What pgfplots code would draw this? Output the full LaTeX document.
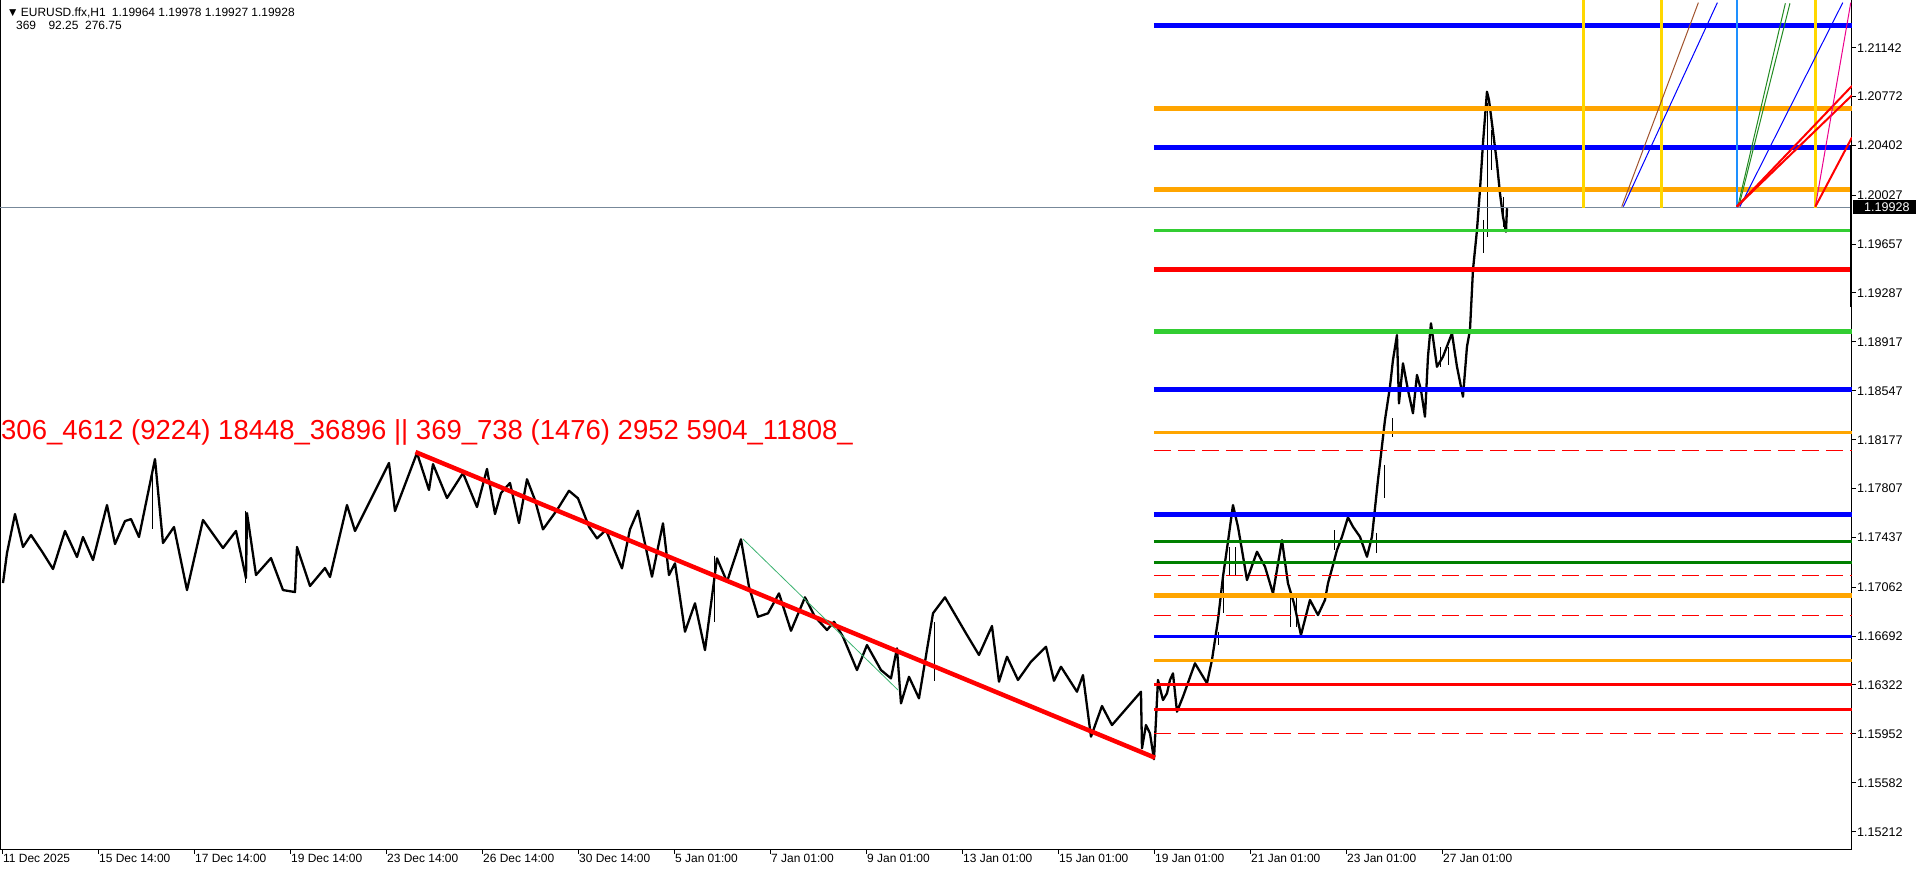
\documentclass[border=0pt]{standalone}
\usepackage{fontspec}
\setmainfont{Liberation Sans}
\usepackage{pgfplots}
\pgfplotsset{compat=1.18}
\definecolor{mtblue}{RGB}{0,0,255}
\definecolor{mtorange}{RGB}{255,165,0}
\definecolor{mtlime}{RGB}{50,205,50}
\definecolor{mtgreen}{RGB}{0,128,0}
\definecolor{mtred}{RGB}{255,0,0}
\definecolor{mtgold}{RGB}{255,215,0}
\definecolor{mtdodger}{RGB}{30,144,255}
\definecolor{mtsienna}{RGB}{160,82,45}
\definecolor{mtforest}{RGB}{34,139,34}
\definecolor{mtteal}{RGB}{60,179,113}
\definecolor{mtslate}{RGB}{119,136,153}
\begin{document}
\begin{tikzpicture}
\path[use as bounding box] (0,-24bp) rectangle (1916bp,850bp);
\begin{axis}[
  at={(0,0)}, anchor=south west,
  scale only axis, width=1852bp, height=850bp,
  xmin=-1.5, xmax=924.5, ymin=1.15074, ymax=1.21503,
  axis line style={line width=1bp, black},
  xtick={0,48,96,144,192,240,288,336,384,432,480,528,576,624,672,720},
  xticklabels={11 Dec 2025,15 Dec 14:00,17 Dec 14:00,19 Dec 14:00,23 Dec 14:00,26 Dec 14:00,30 Dec 14:00,5 Jan 01:00,7 Jan 01:00,9 Jan 01:00,13 Jan 01:00,15 Jan 01:00,19 Jan 01:00,21 Jan 01:00,23 Jan 01:00,27 Jan 01:00},
  ytick={1.21142,1.20772,1.20402,1.20027,1.19657,1.19287,1.18917,1.18547,1.18177,1.17807,1.17437,1.17062,1.16692,1.16322,1.15952,1.15582,1.15212},
  yticklabels={1.21142,1.20772,1.20402,1.20027,1.19657,1.19287,1.18917,1.18547,1.18177,1.17807,1.17437,1.17062,1.16692,1.16322,1.15952,1.15582,1.15212},
  xtick pos=bottom, ytick pos=right, yticklabel pos=right,
  tick align=outside, major tick length=4bp,
  tick style={black, line width=1bp},
  tick label style={inner sep=0pt},
  xticklabel style={anchor=north west, font=\fontsize{12}{14}\selectfont},
  yticklabel style={anchor=west, font=\fontsize{12.6}{14}\selectfont, xshift=1bp},
  /pgf/number format/assume math mode=true,
  clip=true,
]
% price (close path)
\addplot[black, line width=2.3bp, line join=round] coordinates {
(0,1.17093) (2,1.17320) (6,1.17615) (10,1.17366) (14,1.17456) (20,1.17320) (25,1.17199) (31,1.17487) (37,1.17290) (40,1.17441) (45,1.17267) (52,1.17683) (56,1.17388) (61,1.17562) (64,1.17577) (68,1.17441) (76,1.18031) (80,1.17396) (85.5,1.17517) (92,1.17040) (100,1.17570) (110,1.17358) (116.5,1.17487) (121.5,1.17131) (122,1.17623) (126.5,1.17154) (134,1.17282) (140,1.17040) (146,1.17025) (147,1.17366) (153.5,1.17071) (161,1.17207) (163.5,1.17139) (172,1.17683) (176,1.17487) (193,1.18001) (196,1.17638) (207,1.18077) (213,1.17797) (215,1.17993) (222,1.17736) (230,1.17925) (237,1.17668) (242,1.17956) (246,1.17615) (249,1.17774) (253.5,1.17850) (258,1.17547) (262,1.17878) (266,1.17721) (270,1.17499) (277,1.17645) (283,1.17791) (287.5,1.17734) (293,1.17519) (297,1.17431) (301.5,1.17494) (309.5,1.17204) (313.5,1.17499) (317.5,1.17640) (324.5,1.17141) (330,1.17545) (333,1.17154) (336,1.17242) (341,1.16725) (346,1.16940) (351,1.16586) (357,1.17280) (362,1.17103) (369,1.17424) (373,1.17065) (377.5,1.16838) (382.5,1.16864) (388,1.17015) (394,1.16732) (401,1.16985) (406,1.16838) (412,1.16738) (415.5,1.16800) (420,1.16687) (427,1.16435) (432,1.16624) (439,1.16435) (444,1.16372) (447,1.16599) (449,1.16183) (453,1.16384) (458,1.16221) (465,1.16864) (471,1.16985) (481.5,1.16713) (488,1.16549) (494.5,1.16768) (498,1.16347) (502,1.16536) (507.5,1.16360) (514,1.16498) (521.5,1.16611) (525.5,1.16354) (529,1.16460) (537,1.16271) (540,1.16397) (544,1.15931) (549.5,1.16163) (554.5,1.16019) (569,1.16271) (569.5,1.15843) (571.5,1.16019) (573.5,1.15956) (575.5,1.15760) (577.5,1.16360) (580,1.16208) (582,1.16259) (583.5,1.16360) (585,1.16410) (587,1.16120) (590,1.16233) (596,1.16486) (602,1.16335) (604.5,1.16511) (607.5,1.16813) (610,1.17141) (612.5,1.17406) (615,1.17683) (617.5,1.17519) (619.5,1.17343) (622,1.17116) (627,1.17330) (631,1.17217) (635,1.17015) (639.5,1.17418) (642.5,1.17091) (645.5,1.16940) (649,1.16700) (653.5,1.16965) (657.5,1.16851) (661,1.16965) (662.5,1.17091) (665,1.17229) (667,1.17343) (669.5,1.17443) (672.5,1.17590) (675,1.17519) (678.5,1.17443) (682,1.17292) (684.5,1.17443) (687.5,1.17872) (688.5,1.17999) (691,1.18326) (693.5,1.18578) (695,1.18780) (697,1.18969) (698,1.18452) (700,1.18755) (702.5,1.18553) (705,1.18377) (707,1.18667) (709,1.18553) (711,1.18351) (712.5,1.18805) (714,1.19058) (717,1.18729) (720,1.18805) (724.5,1.18982) (727,1.18729) (730,1.18502) (732,1.18881) (733.5,1.19007) (735,1.19461) (737,1.19763) (738.5,1.20066) (740,1.20419) (742,1.20809) (743,1.20747) (744.5,1.20570) (747,1.20268) (748.5,1.20041) (750,1.19864) (751.5,1.19750) (752,1.19928)
};
% high-low spikes
\addplot[black, line width=1bp] coordinates {(691,1.17986) (691,1.17736)};
\addplot[black, line width=1bp] coordinates {(695,1.18341) (695,1.18197)};
\addplot[black, line width=1bp] coordinates {(742.3,1.20724) (742.3,1.19710)};
\addplot[black, line width=1bp] coordinates {(740.5,1.19839) (740.5,1.19589)};
\addplot[black, line width=1bp] coordinates {(744.5,1.20520) (744.5,1.20217)};
\addplot[black, line width=1bp] coordinates {(750.5,1.20013) (750.5,1.19786)};
\addplot[black, line width=1bp] coordinates {(719,1.18878) (719,1.18727)};
\addplot[black, line width=1bp] coordinates {(723,1.18878) (723,1.18740)};
\addplot[black, line width=1bp] coordinates {(608,1.16723) (608,1.16624)};
\addplot[black, line width=1bp] coordinates {(610.5,1.17139) (610.5,1.16866)};
\addplot[black, line width=1bp] coordinates {(613.5,1.17365) (613.5,1.17154)};
\addplot[black, line width=1bp] coordinates {(616.5,1.17365) (616.5,1.17154)};
\addplot[black, line width=1bp] coordinates {(644,1.16987) (644,1.16760)};
\addplot[black, line width=1bp] coordinates {(647,1.16987) (647,1.16760)};
\addplot[black, line width=1bp] coordinates {(666,1.17494) (666,1.17343)};
\addplot[black, line width=1bp] coordinates {(687,1.17472) (687,1.17320)};
\addplot[black, line width=1bp] coordinates {(121.5,1.17640) (121.5,1.17090)};
\addplot[black, line width=1bp] coordinates {(75,1.17950) (75,1.17500)};
\addplot[black, line width=1bp] coordinates {(356,1.17300) (356,1.16800)};
\addplot[black, line width=1bp] coordinates {(466,1.16800) (466,1.16350)};
% bid line
\addplot[mtslate, line width=1bp] coordinates {(-1.5,1.19932) (924.5,1.19932)};
% horizontal levels
\addplot[mtblue, line width=5bp] coordinates {(575.5,1.21309) (924.5,1.21309)};
\addplot[mtorange, line width=5bp] coordinates {(575.5,1.20679) (924.5,1.20679)};
\addplot[mtblue, line width=5bp] coordinates {(575.5,1.20386) (924.5,1.20386)};
\addplot[mtorange, line width=5bp] coordinates {(575.5,1.20071) (924.5,1.20071)};
\addplot[mtlime, line width=3bp] coordinates {(575.5,1.19756) (924.5,1.19756)};
\addplot[mtred, line width=5bp] coordinates {(575.5,1.19466) (924.5,1.19466)};
\addplot[mtlime, line width=5bp] coordinates {(575.5,1.18999) (924.5,1.18999)};
\addplot[mtblue, line width=5bp] coordinates {(575.5,1.18558) (924.5,1.18558)};
\addplot[mtorange, line width=3bp] coordinates {(575.5,1.18235) (924.5,1.18235)};
\addplot[mtred, line width=1bp, dash pattern=on 17bp off 7bp] coordinates {(575.5,1.18099) (924.5,1.18099)};
\addplot[mtblue, line width=5bp] coordinates {(575.5,1.17613) (924.5,1.17613)};
\addplot[mtgreen, line width=3bp] coordinates {(575.5,1.17411) (924.5,1.17411)};
\addplot[mtgreen, line width=3bp] coordinates {(575.5,1.17250) (924.5,1.17250)};
\addplot[mtred, line width=1bp, dash pattern=on 17bp off 7bp] coordinates {(575.5,1.17151) (924.5,1.17151)};
\addplot[mtorange, line width=5bp] coordinates {(575.5,1.17002) (924.5,1.17002)};
\addplot[mtred, line width=1bp, dash pattern=on 17bp off 7bp] coordinates {(575.5,1.16844) (924.5,1.16844)};
\addplot[mtblue, line width=3bp] coordinates {(575.5,1.16690) (924.5,1.16690)};
\addplot[mtorange, line width=3bp] coordinates {(575.5,1.16511) (924.5,1.16511)};
\addplot[mtred, line width=3bp] coordinates {(575.5,1.16327) (924.5,1.16327)};
\addplot[mtred, line width=3bp] coordinates {(575.5,1.16140) (924.5,1.16140)};
\addplot[mtred, line width=1bp, dash pattern=on 17bp off 7bp] coordinates {(575.5,1.15956) (924.5,1.15956)};
% trend lines
\addplot[mtred, line width=4.5bp] coordinates {(206.25,1.18084) (576,1.15772)};
\addplot[mtteal, line width=0.8bp] coordinates {(370,1.17426) (447.5,1.16284)};
% vertical lines
\addplot[mtgold, line width=3bp] coordinates {(790.2,1.21503) (790.2,1.19932)};
\addplot[mtgold, line width=3bp] coordinates {(829.2,1.21503) (829.2,1.19932)};
\addplot[mtgold, line width=3bp] coordinates {(906.2,1.21503) (906.2,1.19932)};
\addplot[mtdodger, line width=2bp] coordinates {(866.9,1.21503) (866.9,1.19932)};
% fan lines
\addplot[mtsienna, line width=1bp] coordinates {(809.4,1.19940) (847.7,1.21483)};
\addplot[mtblue, line width=1bp] coordinates {(810.2,1.19940) (857.2,1.21483)};
\addplot[mtforest, line width=1bp] coordinates {(867.4,1.19940) (891.2,1.21478)};
\addplot[mtforest, line width=1bp] coordinates {(867.9,1.19940) (893.5,1.21478)};
\addplot[mtblue, line width=1bp] coordinates {(868.5,1.19940) (919.9,1.21483)};
\addplot[mtred, line width=2bp] coordinates {(866.9,1.19940) (924.5,1.20853)};
\addplot[mtred, line width=2bp] coordinates {(866.9,1.19940) (924.5,1.20782)};
\addplot[magenta, line width=1bp] coordinates {(906.2,1.19940) (923.9,1.21483)};
\addplot[mtred, line width=2bp] coordinates {(906.2,1.19940) (924.5,1.20464)};
% thick spine segment on price scale
\addplot[black, line width=3bp, clip=false] coordinates {(924.5,1.20404) (924.5,1.19183)};
\end{axis}
% texts
\node[anchor=base west, inner sep=0pt, text=mtred, font=\fontsize{27.6}{30}\selectfont] at (1bp,410.7bp) {306\_4612 (9224) 18448\_36896 || 369\_738 (1476) 2952 5904\_11808\_};
\begin{scope}[every node/.style={anchor=base west, inner sep=0pt, font=\fontsize{12}{14}\selectfont}]
\node at (6.7bp,833bp) {▼};
\node at (20.7bp,833bp) {EURUSD.ffx,H1};
\node at (111.7bp,833bp) {1.19964 1.19978 1.19927 1.19928};
\node at (16bp,820.7bp) {369};
\node at (48.3bp,820.7bp) {92.25};
\node at (85bp,820.7bp) {276.75};
\end{scope}
\node[anchor=west, fill=black, text=white, inner sep=0pt, minimum height=14bp, minimum width=63bp, text width=55bp, align=left, font=\fontsize{12.6}{14}\selectfont] at (1853bp,642.7bp) {\hspace*{7bp}1.19928};
\end{tikzpicture}
\end{document}
